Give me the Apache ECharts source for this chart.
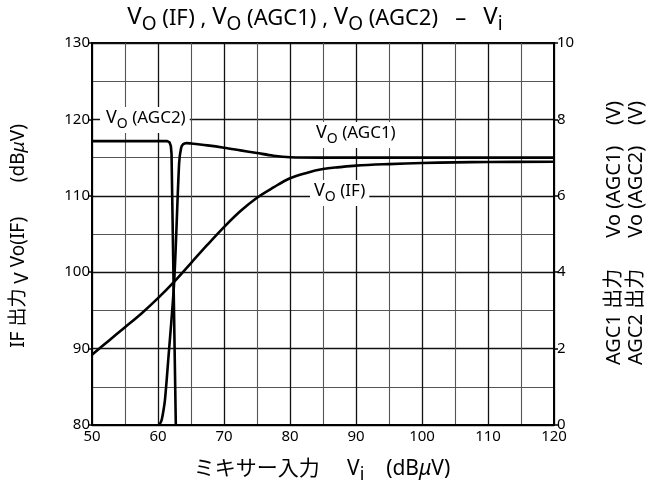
<!DOCTYPE html>
<html>
<head>
<meta charset="utf-8">
<script src="https://cdn.jsdelivr.net/npm/echarts@6/dist/echarts.min.js"></script>
<style>
  html, body { margin: 0; padding: 0; background: #fff; }
  #chart { width: 651px; height: 493px; }
</style>
</head>
<body>
<div id="chart"></div>
<script>
// Mixer input level Vi (dBμV)
const ifX   = [50, 52.5, 55, 57.5, 60, 62.5, 65, 67.5, 70, 72.5, 75, 77.5, 80, 82.5, 85, 87.5, 90, 95, 100, 105, 110, 120];
// IF output Vo(IF) (dBμV), left axis
const ifY   = [89.2, 91.0, 92.8, 94.6, 96.6, 98.8, 101.2, 103.6, 105.9, 108.0, 109.75, 111.1, 112.3, 113.0, 113.5, 113.75, 113.95, 114.15, 114.3, 114.38, 114.42, 114.45];

// AGC1 output Vo(AGC1) (V), right axis
const agc1X = [60.15, 60.5, 60.75, 61.05, 61.55, 62.45, 63.2, 63.5, 63.8, 64.3, 65, 67.5, 70, 72.5, 75, 77.5, 80, 85, 90, 100, 110, 120];
const agc1Y = [0, 0.1, 0.3, 0.65, 1.7, 3.75, 6.85, 7.25, 7.35, 7.38, 7.37, 7.32, 7.26, 7.19, 7.12, 7.05, 7.01, 7.0, 7.0, 7.0, 7.0, 7.0];

// AGC2 output Vo(AGC2) (V), right axis
const agc2X = [50, 55, 61.4, 61.75, 61.95, 62.05, 62.7];
const agc2Y = [7.43, 7.43, 7.43, 7.4, 7.3, 7.1, 0];

const leftTicks  = { min: 80, max: 130, step: 10 };
const rightTicks = { min: 0, max: 10, step: 2 };
const xTicks     = { min: 50, max: 120, step: 10 };

const FONT = "'Noto Sans', 'Noto Sans CJK JP', sans-serif";
const zip = (xs, ys) => xs.map((x, i) => [x, ys[i]]);

const chart = echarts.init(document.getElementById('chart'), null, { renderer: 'canvas' });

const majorGrid = { show: true, lineStyle: { color: '#111', width: 1.3 } };
const minorGrid = { show: true, lineStyle: { color: '#555', width: 1.1 } };
const tickLabel = { color: '#000', fontFamily: FONT, fontSize: 15 };

// Rich text pieces: big letter, lowered subscript, parenthesised part
function richSet(big, sub, rest, lift) {
  return {
    v: { fontFamily: FONT, fontSize: big, color: '#000', verticalAlign: 'bottom', padding: [0, 0, lift, 0] },
    s: { fontFamily: FONT, fontSize: sub, color: '#000', verticalAlign: 'bottom', padding: [0, 0, 0, 0] },
    t: { fontFamily: FONT, fontSize: rest, color: '#000', verticalAlign: 'bottom', padding: [0, 0, lift, 0] }
  };
}

const option = {
  backgroundColor: '#fff',
  animation: false,
  grid: { left: 92, right: 97, top: 43, bottom: 68, show: true, borderColor: '#000', borderWidth: 2, backgroundColor: 'transparent' },
  xAxis: {
    type: 'value', min: xTicks.min, max: xTicks.max, interval: xTicks.step,
    axisLine: { show: true, lineStyle: { color: '#000', width: 2 } },
    axisTick: { show: false },
    axisLabel: Object.assign({ margin: 4 }, tickLabel),
    splitLine: majorGrid,
    minorTick: { show: false, splitNumber: 2 },
    minorSplitLine: minorGrid
  },
  yAxis: [
    {
      type: 'value', min: leftTicks.min, max: leftTicks.max, interval: leftTicks.step, position: 'left',
      axisLine: { show: true, lineStyle: { color: '#000', width: 2 } },
      axisTick: { show: true, length: 4, lineStyle: { color: '#000', width: 1.5 } },
      axisLabel: Object.assign({ margin: 2 }, tickLabel),
      splitLine: majorGrid,
      minorTick: { show: false, splitNumber: 2 },
      minorSplitLine: minorGrid
    },
    {
      type: 'value', min: rightTicks.min, max: rightTicks.max, interval: rightTicks.step, position: 'right',
      axisLine: { show: true, lineStyle: { color: '#000', width: 2 } },
      axisTick: { show: true, length: 4, lineStyle: { color: '#000', width: 1.5 } },
      axisLabel: Object.assign({ margin: 3 }, tickLabel),
      splitLine: { show: false }
    }
  ],
  series: [
    { name: 'Vo(IF)', type: 'line', yAxisIndex: 0, data: zip(ifX, ifY), showSymbol: false, smooth: 0.35,
      lineStyle: { color: '#000', width: 2.6 }, z: 3 },
    { name: 'Vo(AGC1)', type: 'line', yAxisIndex: 1, data: zip(agc1X, agc1Y), showSymbol: false, smooth: 0.3,
      lineStyle: { color: '#000', width: 2.6 }, z: 3 },
    { name: 'Vo(AGC2)', type: 'line', yAxisIndex: 1, data: zip(agc2X, agc2Y), showSymbol: false, smooth: false,
      lineStyle: { color: '#000', width: 2.6, join: 'round' }, z: 3 }
  ],
  graphic: [
    // title
    { type: 'text', x: 315, y: 20, z: 100,
      style: {
        text: '{v|V}{s|O}{t| (IF) , }{v|V}{s|O}{t| (AGC1) , }{v|V}{s|O}{t| (AGC2)   –   }{v|V}{s|i}',
        align: 'center', verticalAlign: 'middle',
        rich: richSet(24, 19, 22, 5)
      } },
    // curve labels
    { type: 'text', x: 100, y: 107, z: 100,
      style: { text: '{v|V}{s|O}{t| (AGC2)}', backgroundColor: '#fff', padding: [2, 4, 2, 6], rich: richSet(18, 14, 17, 4) } },
    { type: 'text', x: 312, y: 122, z: 100,
      style: { text: '{v|V}{s|O}{t| (AGC1)}', backgroundColor: '#fff', padding: [2, 4, 2, 4], rich: richSet(18, 14, 17, 4) } },
    { type: 'text', x: 310, y: 180, z: 100,
      style: { text: '{v|V}{s|O}{t| (IF)}', backgroundColor: '#fff', padding: [2, 4, 2, 4], rich: richSet(18, 14, 17, 4) } },
    // left axis title
    { type: 'text', x: 21, y: 236, rotation: Math.PI / 2, z: 100,
      style: {
        text: '{a|IF 出力 }{b|V}{a| Vo(IF)       (dB}{m|μ}{a|V)}',
        align: 'center', verticalAlign: 'middle',
        rich: {
          a: { fontFamily: FONT, fontSize: 19, color: '#000', verticalAlign: 'bottom', padding: [0, 0, 4, 0] },
          b: { fontFamily: FONT, fontSize: 19, color: '#000', verticalAlign: 'bottom' },
          m: { fontFamily: FONT, fontSize: 19, color: '#000', fontStyle: 'italic', verticalAlign: 'bottom', padding: [0, 0, 4, 0] }
        }
      } },
    // right axis titles
    { type: 'text', x: 614, y: 233, rotation: Math.PI / 2, z: 100,
      style: {
        text: '{a|AGC1 出力}{g|      Vo (AGC1)    (V)}',
        align: 'center', verticalAlign: 'middle',
        rich: {
          a: { fontFamily: FONT, fontSize: 20, color: '#000' },
          g: { fontFamily: FONT, fontSize: 20, color: '#3a3a3a' }
        }
      } },
    { type: 'text', x: 636, y: 233, rotation: Math.PI / 2, z: 100,
      style: {
        text: '{a|AGC2 出力}{g|      Vo (AGC2)    (V)}',
        align: 'center', verticalAlign: 'middle',
        rich: {
          a: { fontFamily: FONT, fontSize: 20, color: '#000' },
          g: { fontFamily: FONT, fontSize: 20, color: '#3a3a3a' }
        }
      } },
    // bottom axis title
    { type: 'text', x: 322, y: 471, z: 100,
      style: {
        text: '{a|ミキサー入力     V}{s|i}{a|    (dB}{m|μ}{a|V)}',
        align: 'center', verticalAlign: 'middle',
        rich: {
          a: { fontFamily: FONT, fontSize: 21, color: '#000', verticalAlign: 'bottom', padding: [0, 0, 4, 0] },
          s: { fontFamily: FONT, fontSize: 18, color: '#000', verticalAlign: 'bottom' },
          m: { fontFamily: FONT, fontSize: 21, color: '#000', fontStyle: 'italic', verticalAlign: 'bottom', padding: [0, 0, 4, 0] }
        }
      } }
  ]
};

chart.setOption(option);
</script>
</body>
</html>
